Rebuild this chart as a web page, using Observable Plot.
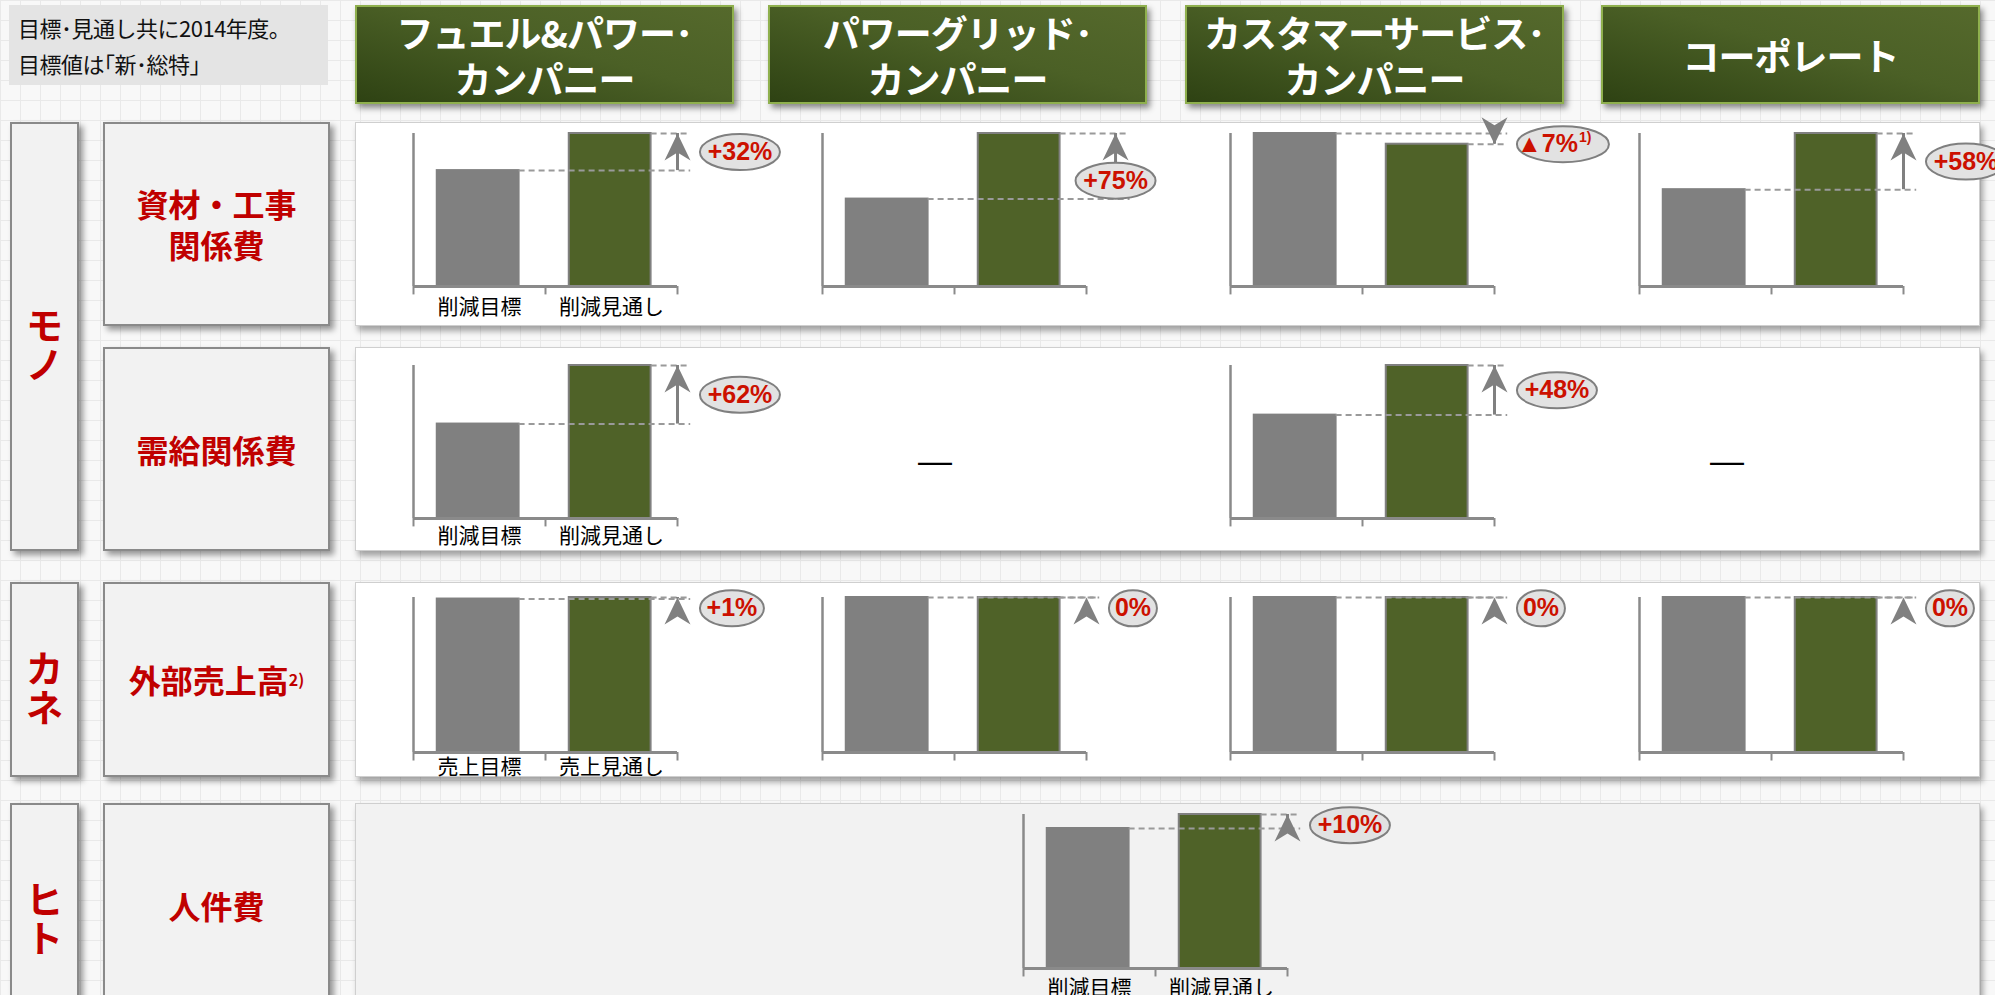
<!DOCTYPE html>
<html>
<head>
<meta charset="utf-8">
<script src="https://cdn.jsdelivr.net/npm/d3@7"></script>
<script src="https://cdn.jsdelivr.net/npm/@observablehq/plot@0.6"></script>
<style>
body{margin:0;width:1995px;height:995px;overflow:hidden;position:relative;
 background-color:#f8f8f8;
 background-image:linear-gradient(#e9e9e9 1px,transparent 1px),linear-gradient(90deg,#e9e9e9 1px,transparent 1px);
 background-size:20px 20px;font-family:"Noto Sans CJK JP","Noto Sans",sans-serif;}
.abs{position:absolute;box-sizing:border-box}
.note{background:#e4e4e4;color:#111;font-size:22px;line-height:36px;padding:4px 0 0 9px;white-space:pre;letter-spacing:-0.5px}
.header{background:linear-gradient(195deg,#55692c 0%,#4b6026 45%,#2e4213 100%);border:2px solid #8fb04e;
 box-shadow:3px 4px 6px rgba(0,0,0,.45);color:#fff;font-size:37px;font-weight:700;display:flex;align-items:center;
 justify-content:center;text-align:center;line-height:46px;white-space:pre;letter-spacing:-1px}
.lbl{background:#f2f2f2;border:2px solid #8a8a8a;box-shadow:4px 4px 6px rgba(0,0,0,.4);color:#c00000;
 font-weight:700;display:flex;align-items:center;justify-content:center;text-align:center;white-space:pre}
.panel{background:#fff;border:1px solid #cfcfcf;box-shadow:3px 5px 6px rgba(0,0,0,.35)}
.panel.grey{background:#f2f2f2}
.dash{font-family:"Liberation Sans",sans-serif;font-size:34px;color:#000;transform:translate(-50%,-50%)}
svg{overflow:visible}
</style>
</head>
<body>
<script>
// ---------- data ----------
const noteText = "目標･見通し共に2014年度。\n目標値は｢新･総特｣";
const companies = ["フュエル&パワー･\nカンパニー", "パワーグリッド･\nカンパニー", "カスタマーサービス･\nカンパニー", "コーポレート"];
const groups = ["モ\nノ", "カ\nネ", "ヒ\nト"];
const items = ["資材・工事\n関係費", "需給関係費", "外部売上高", "人件費"];
const itemNotes = ["", "", "2)", ""];
const costCats = ["削減目標", "削減見通し"];
const salesCats = ["売上目標", "売上見通し"];

// index values: target (grey bar) and forecast (green bar); null = not applicable
const materialTarget   = [100, 100, 100, 100];
const materialForecast = [132, 175, 93, 158];
const materialChange   = ["+32%", "+75%", "▲7%", "+58%"];
const materialNotes    = ["", "", "1)", ""];

const supplyTarget   = [100, null, 100, null];
const supplyForecast = [162, null, 148, null];
const supplyChange   = ["+62%", null, "+48%", null];

const salesTarget   = [100, 100, 100, 100];
const salesForecast = [101, 100, 100, 100];
const salesChange   = ["+1%", "0%", "0%", "0%"];

const laborTarget   = [100];
const laborForecast = [110];
const laborChange   = ["+10%"];

// ---------- layout ----------
const GRAY = "#808080", GREEN = "#4f6228", LINE = "#8a8a8a";
const rowBox = [
  {top:122, h:204, axisTop:133, base:286, labelDy:21},
  {top:347, h:204, axisTop:365, base:518, labelDy:18},
  {top:582, h:195, axisTop:597, base:752, labelDy:15},
  {top:803, h:205, axisTop:814, base:968, labelDy:20}
];
const colAxis = [413, 822, 1230, 1639];
const laborAxis = 1023;

function el(cls, x, y, w, h, html) {
  const d = document.createElement("div");
  d.className = "abs " + cls;
  Object.assign(d.style, {left:x+"px", top:y+"px"});
  if (w != null) d.style.width = w + "px";
  if (h != null) d.style.height = h + "px";
  if (html != null) d.innerHTML = html;
  document.body.appendChild(d);
  return d;
}

// note + headers
el("note", 9, 5, 319, 80).textContent = noteText;
const headerX = [355, 768, 1185, 1601];
companies.forEach((c, i) => { el("header", headerX[i], 5, 379, 99).textContent = c; });

// left group boxes
const groupBoxes = [[122, 429], [582, 195], [803, 215]];
groups.forEach((g, i) => {
  const d = el("lbl", 10, groupBoxes[i][0], 69, groupBoxes[i][1]);
  d.textContent = g;
  Object.assign(d.style, {fontSize:"37px", lineHeight:"39px", paddingTop:"14px"});
});
// item boxes + panels
items.forEach((t, i) => {
  const R = rowBox[i];
  const d = el("lbl", 103, R.top, 227, R.h);
  d.innerHTML = t.replace("\n", "<br>") + (itemNotes[i] ? `<span style="font-size:16px;vertical-align:12px">${itemNotes[i]}</span>` : "");
  Object.assign(d.style, {fontSize:"32px", lineHeight:"41px", whiteSpace:"normal"});
  el("panel" + (i === 3 ? " grey" : ""), 355, R.top, 1625, R.h);
});

// ---------- charts ----------
const headSym = {draw(c){ c.moveTo(0,0); c.lineTo(13,27); c.lineTo(0,19); c.lineTo(-13,27); c.closePath(); }};
function ellipseSym(rx, ry) {
  const k = 0.5523;
  return {draw(c){
    c.moveTo(rx,0);
    c.bezierCurveTo(rx,ry*k,rx*k,ry,0,ry);
    c.bezierCurveTo(-rx*k,ry,-rx,ry*k,-rx,0);
    c.bezierCurveTo(-rx,-ry*k,-rx*k,-ry,0,-ry);
    c.bezierCurveTo(rx*k,-ry,rx,-ry*k,rx,0);
    c.closePath();
  }};
}

function drawChart({axisX, row, t, f, change, note, cats, opts = {}}) {
  const R = rowBox[row];
  const W = 440, ML = 40, UNIT = 132;
  const max = Math.max(t, f);
  const bars = [{i:0, v:t, k:"t"}, {i:1, v:f, k:"f"}];
  const up = f >= t;
  const arrowX = opts.arrowX ?? 2.0, dashEnd = opts.dashEnd ?? 2.1;
  const rx = 8 + 8 * change.length + (note ? 14 : 0), ry = 18;
  let ex, edx, ey;
  if (opts.belowArrow) { ex = arrowX; edx = 0; ey = t + 0.12 * max; }
  else { ex = 2.17; edx = rx; ey = Math.min((t + f) / 2, max * 0.93); }
  const labelFont = {fill:"#cc1100", fontWeight:"bold", fontSize:25,
    fontFamily:"Liberation Sans Narrow, Liberation Sans, Arial, sans-serif"};
  const marks = [
    Plot.rectY(bars, {x1: d => d.i + 0.18, x2: d => d.i + 0.8, y: "v",
      fill: d => d.k === "t" ? GRAY : GREEN, stroke: GRAY, strokeWidth: 2}),
    Plot.ruleX([0], {y1: 0, y2: max, stroke: LINE, strokeWidth: 2.5}),
    Plot.ruleY([0], {x1: 0, x2: 2, stroke: LINE, strokeWidth: 3}),
    Plot.ruleX([0, 1, 2], {x: d => d, y1: 0, y2: -max * 0.055, stroke: LINE, strokeWidth: 2}),
    Plot.ruleY(bars, {y: "v", x1: d => d.i + 0.8, x2: dashEnd, stroke: "#9a9a9a", strokeWidth: 2, strokeDasharray: "6,4"}),
    Plot.ruleX([0], {x: arrowX, y1: t, y2: f, stroke: GRAY, strokeWidth: 3}),
    Plot.dot([0], {x: arrowX, y: f, r: 6, symbol: headSym, fill: GRAY, stroke: "none", rotate: up ? 0 : 180}),
    Plot.dot([0], {x: ex, y: ey, dx: edx, r: 6, symbol: ellipseSym(rx, ry), fill: "#e2e2e2", stroke: "#7f7f7f", strokeWidth: 2})
  ];
  if (note) {
    marks.push(Plot.text([change], {x: ex, y: ey, dx: edx + 15, text: d => d, textAnchor: "end", ...labelFont}));
    marks.push(Plot.text([note], {x: ex, y: ey, dx: edx + 16, dy: -7, text: d => d, textAnchor: "start", ...labelFont, fontSize: 14}));
  } else {
    marks.push(Plot.text([change], {x: ex, y: ey, dx: edx, text: d => d, ...labelFont}));
  }
  if (cats) {
    marks.push(Plot.text(cats, {x: (d, i) => i + 0.5, y: 0, dy: R.labelDy, text: d => d,
      fontSize: 21, fill: "#000", fontFamily: "Noto Sans CJK JP, sans-serif"}));
  }
  const svg = Plot.plot({
    width: W, height: R.h,
    marginLeft: ML, marginRight: W - ML - 2 * UNIT,
    marginTop: R.axisTop - R.top, marginBottom: R.top + R.h - R.base,
    x: {domain: [0, 2], axis: null},
    y: {domain: [0, max], axis: null},
    style: {background: "transparent", overflow: "visible"},
    marks
  });
  const holder = el("", axisX - ML, R.top, W, R.h);
  holder.appendChild(svg);
}

const chartOpts = {"0-1": {arrowX: 2.22, dashEnd: 2.33, belowArrow: true}};

materialTarget.forEach((t, c) => drawChart({axisX: colAxis[c], row: 0, t, f: materialForecast[c],
  change: materialChange[c], note: materialNotes[c], cats: c === 0 ? costCats : null, opts: chartOpts["0-" + c]}));
supplyTarget.forEach((t, c) => {
  if (t == null) { el("dash", c === 1 ? 935 : 1727, 460, null, null, "—"); return; }
  drawChart({axisX: colAxis[c], row: 1, t, f: supplyForecast[c], change: supplyChange[c], note: "", cats: c === 0 ? costCats : null});
});
salesTarget.forEach((t, c) => drawChart({axisX: colAxis[c], row: 2, t, f: salesForecast[c],
  change: salesChange[c], note: "", cats: c === 0 ? salesCats : null}));
laborTarget.forEach((t, c) => drawChart({axisX: laborAxis, row: 3, t, f: laborForecast[c],
  change: laborChange[c], note: "", cats: costCats}));
</script>
</body>
</html>
